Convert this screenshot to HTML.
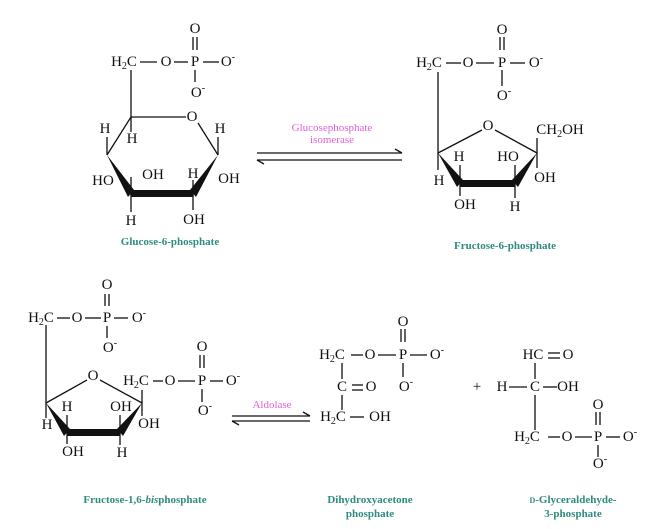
<!DOCTYPE html>
<html><head><meta charset="utf-8"><style>
html,body{margin:0;padding:0;background:#fff}
svg{display:block}
text{font-family:"Liberation Serif",serif;font-size:15px;fill:#111}
.c{font-size:11px;fill:#2e8b7e;font-weight:bold}
.e{font-size:11px;fill:#e060d8}
</style></head><body>
<svg width="649" height="529" viewBox="0 0 649 529" xmlns="http://www.w3.org/2000/svg" text-anchor="middle" dominant-baseline="central">
<g stroke="#111" stroke-width="1.3" fill="none">
<line x1="193" y1="37" x2="193" y2="50"/><line x1="197" y1="37" x2="197" y2="50"/>
<line x1="140" y1="62" x2="157" y2="62"/><line x1="174" y1="62" x2="188" y2="62"/><line x1="203" y1="62" x2="219" y2="62"/>
<line x1="195" y1="70" x2="195" y2="82"/>
<line x1="131" y1="70" x2="131" y2="117"/>
<line x1="131" y1="117" x2="186" y2="117"/>
<line x1="198" y1="123" x2="218" y2="155"/>
<line x1="131" y1="117" x2="107" y2="155"/>
<line x1="131" y1="117" x2="131" y2="132"/>
<line x1="107" y1="137" x2="107" y2="155"/>
<line x1="218" y1="137" x2="218" y2="155"/>
<line x1="131" y1="193" x2="131" y2="212"/>
<line x1="193" y1="193" x2="193" y2="210"/>
<line x1="131" y1="177" x2="131" y2="193"/><line x1="193" y1="180" x2="193" y2="193"/>
<line x1="257" y1="153" x2="402" y2="153"/><line x1="402" y1="153" x2="395" y2="149"/>
<line x1="257" y1="160" x2="402" y2="160"/><line x1="257" y1="160" x2="264" y2="164"/>
<line x1="500" y1="37" x2="500" y2="50"/><line x1="504" y1="37" x2="504" y2="50"/>
<line x1="446" y1="63" x2="461" y2="63"/><line x1="476" y1="63" x2="494" y2="63"/><line x1="510" y1="63" x2="525" y2="63"/>
<line x1="502" y1="70" x2="502" y2="86"/>
<line x1="438" y1="72" x2="438" y2="153"/>
<line x1="438" y1="153" x2="482" y2="130"/><line x1="495" y1="130" x2="537" y2="153"/>
<line x1="537" y1="138" x2="537" y2="168"/>
<line x1="438" y1="153" x2="438" y2="170"/>
<line x1="460" y1="165" x2="460" y2="183"/><line x1="515" y1="165" x2="515" y2="183"/>
<line x1="460" y1="183" x2="460" y2="196"/><line x1="515" y1="183" x2="515" y2="198"/>
<line x1="105" y1="294" x2="105" y2="306"/><line x1="109" y1="294" x2="109" y2="306"/>
<line x1="57" y1="318" x2="70" y2="318"/><line x1="85" y1="318" x2="101" y2="318"/><line x1="114" y1="318" x2="128" y2="318"/>
<line x1="107" y1="326" x2="107" y2="338"/>
<line x1="46" y1="325" x2="46" y2="403"/>
<line x1="46" y1="403" x2="87" y2="380"/><line x1="100" y1="380" x2="142" y2="403"/>
<line x1="142" y1="390" x2="142" y2="416"/>
<line x1="46" y1="403" x2="46" y2="418"/>
<line x1="67" y1="415" x2="67" y2="432"/><line x1="120" y1="415" x2="120" y2="432"/>
<line x1="67" y1="432" x2="67" y2="444"/><line x1="120" y1="432" x2="120" y2="445"/>
<line x1="200" y1="355" x2="200" y2="368"/><line x1="204" y1="355" x2="204" y2="368"/>
<line x1="153" y1="381" x2="163" y2="381"/><line x1="178" y1="381" x2="195" y2="381"/><line x1="210" y1="381" x2="223" y2="381"/>
<line x1="202" y1="389" x2="202" y2="402"/>
<line x1="232" y1="416" x2="310" y2="416"/><line x1="310" y1="416" x2="303" y2="412"/>
<line x1="232" y1="421" x2="310" y2="421"/><line x1="232" y1="421" x2="239" y2="425"/>
<line x1="401" y1="329" x2="401" y2="342"/><line x1="405" y1="329" x2="405" y2="342"/>
<line x1="351" y1="355" x2="363" y2="355"/><line x1="378" y1="355" x2="396" y2="355"/><line x1="410" y1="355" x2="427" y2="355"/>
<line x1="403" y1="363" x2="403" y2="377"/>
<line x1="342" y1="363" x2="342" y2="379"/><line x1="342" y1="395" x2="342" y2="410"/>
<line x1="352" y1="385" x2="363" y2="385"/><line x1="352" y1="390" x2="363" y2="390"/>
<line x1="350" y1="417" x2="364" y2="417"/>
<line x1="548" y1="353" x2="560" y2="353"/><line x1="548" y1="358" x2="560" y2="358"/>
<line x1="535" y1="363" x2="535" y2="379"/><line x1="535" y1="395" x2="535" y2="430"/>
<line x1="509" y1="387" x2="527" y2="387"/><line x1="543" y1="387" x2="557" y2="387"/>
<line x1="596" y1="412" x2="596" y2="425"/><line x1="600" y1="412" x2="600" y2="425"/>
<line x1="548" y1="437" x2="560" y2="437"/><line x1="575" y1="437" x2="592" y2="437"/><line x1="606" y1="437" x2="620" y2="437"/>
<line x1="598" y1="445" x2="598" y2="457"/>
</g>
<g fill="#111">
<polygon points="107,155 134,190 128,197"/>
<polygon points="218,155 190,190 196,197"/>
<polygon points="131,190 193,190 193,197 131,197"/>
<polygon points="438,153 463,180 457,187"/>
<polygon points="537,153 512,180 518,187"/>
<polygon points="460,180 515,180 515,187 460,187"/>
<polygon points="46,403 70,429 64,436"/>
<polygon points="142,403 117,429 123,436"/>
<polygon points="67,429 120,429 120,436 67,436"/>
</g>
<text x="195" y="29">O</text>
<text x="124" y="62">H<tspan font-size="10" dy="4">2</tspan><tspan dy="-4">C</tspan></text>
<text x="166" y="62">O</text><text x="195" y="62">P</text><text x="228" y="62">O<tspan font-size="10" dy="-5">-</tspan></text>
<text x="198" y="93">O<tspan font-size="10" dy="-5">-</tspan></text>
<text x="192" y="117">O</text>
<text x="105" y="129">H</text><text x="132" y="139">H</text><text x="220" y="129">H</text>
<text x="103" y="181">HO</text><text x="153" y="175">OH</text><text x="193" y="174">H</text><text x="229" y="179">OH</text>
<text x="131" y="221">H</text><text x="194" y="220">OH</text>
<text class="c" x="170" y="242">Glucose-6-phosphate</text>
<text class="e" x="332" y="128">Glucosephosphate</text><text class="e" x="332" y="140">isomerase</text>
<text x="502" y="30">O</text>
<text x="429" y="63">H<tspan font-size="10" dy="4">2</tspan><tspan dy="-4">C</tspan></text>
<text x="468" y="63">O</text><text x="502" y="63">P</text><text x="536" y="63">O<tspan font-size="10" dy="-5">-</tspan></text>
<text x="504" y="96">O<tspan font-size="10" dy="-5">-</tspan></text>
<text x="488" y="126">O</text>
<text x="560" y="130">CH<tspan font-size="10" dy="4">2</tspan><tspan dy="-4">OH</tspan></text>
<text x="459" y="157">H</text><text x="508" y="157">HO</text>
<text x="439" y="181">H</text><text x="545" y="178">OH</text>
<text x="465" y="205">OH</text><text x="515" y="207">H</text>
<text class="c" x="505" y="246">Fructose-6-phosphate</text>
<text x="107" y="285">O</text>
<text x="41" y="318">H<tspan font-size="10" dy="4">2</tspan><tspan dy="-4">C</tspan></text>
<text x="77" y="318">O</text><text x="107" y="318">P</text><text x="139" y="318">O<tspan font-size="10" dy="-5">-</tspan></text>
<text x="110" y="348">O<tspan font-size="10" dy="-5">-</tspan></text>
<text x="93" y="376">O</text>
<text x="67" y="407">H</text><text x="121" y="407">OH</text>
<text x="47" y="425">H</text><text x="149" y="424">OH</text>
<text x="73" y="452">OH</text><text x="122" y="453">H</text>
<text x="202" y="347">O</text>
<text x="136" y="381">H<tspan font-size="10" dy="4">2</tspan><tspan dy="-4">C</tspan></text>
<text x="170" y="381">O</text><text x="202" y="381">P</text><text x="233" y="381">O<tspan font-size="10" dy="-5">-</tspan></text>
<text x="205" y="411">O<tspan font-size="10" dy="-5">-</tspan></text>
<text class="e" x="272" y="405">Aldolase</text>
<text class="c" x="145" y="500">Fructose-1,6-<tspan font-style="italic">bis</tspan>phosphate</text>
<text x="403" y="322">O</text>
<text x="332" y="355">H<tspan font-size="10" dy="4">2</tspan><tspan dy="-4">C</tspan></text>
<text x="370" y="355">O</text><text x="403" y="355">P</text><text x="437" y="355">O<tspan font-size="10" dy="-5">-</tspan></text>
<text x="406" y="387">O<tspan font-size="10" dy="-5">-</tspan></text>
<text x="342" y="387">C</text><text x="371" y="387">O</text>
<text x="333" y="417">H<tspan font-size="10" dy="4">2</tspan><tspan dy="-4">C</tspan></text>
<text x="380" y="417">OH</text>
<text x="477" y="387" font-size="13">+</text>
<text class="c" x="370" y="500">Dihydroxyacetone</text><text class="c" x="370" y="514">phosphate</text>
<text x="533" y="355">HC</text><text x="568" y="355">O</text>
<text x="502" y="387">H</text><text x="535" y="387">C</text><text x="568" y="387">OH</text>
<text x="598" y="405">O</text>
<text x="527" y="437">H<tspan font-size="10" dy="4">2</tspan><tspan dy="-4">C</tspan></text>
<text x="567" y="437">O</text><text x="598" y="437">P</text><text x="630" y="437">O<tspan font-size="10" dy="-5">-</tspan></text>
<text x="600" y="464">O<tspan font-size="10" dy="-5">-</tspan></text>
<text class="c" x="573" y="500"><tspan font-size="8">D</tspan>-Glyceraldehyde-</text><text class="c" x="573" y="514">3-phosphate</text>
</svg>
</body></html>
